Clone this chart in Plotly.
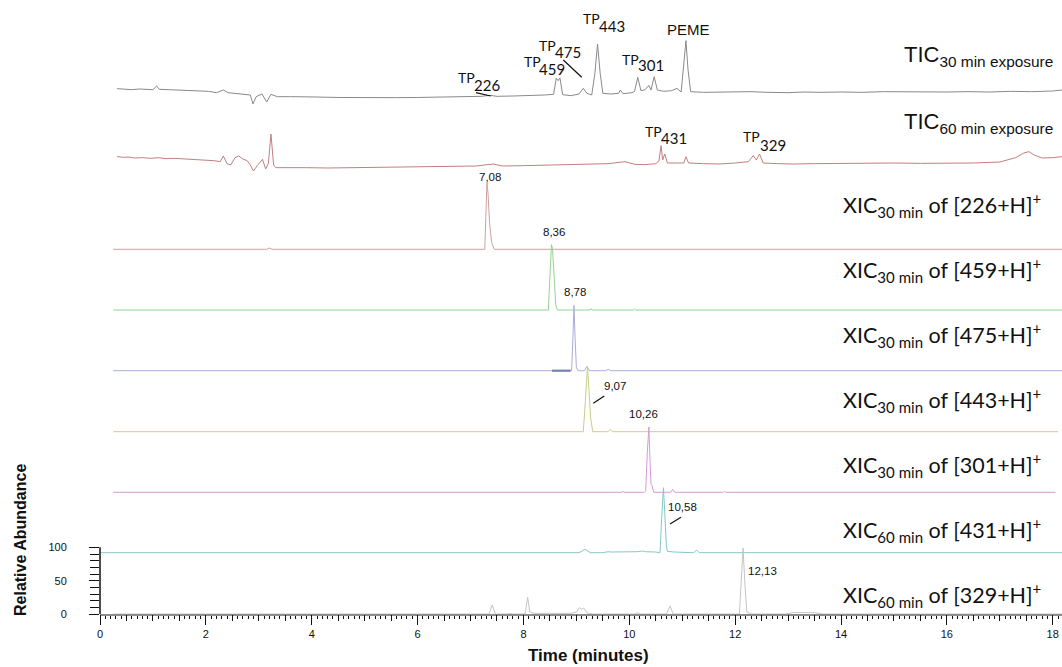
import numpy as np
import plotly.graph_objects as go

# ---------------- data ----------------
tic30_t = [0.32,0.45,0.6,0.75,0.9,1.0,1.07,1.12,1.3,1.5,1.7,1.9,2.05,2.2,2.33,2.42,2.55,2.7,2.84,2.89,2.95,3.06,3.15,3.23,3.35,3.6,3.8,4.1,4.5,4.9,5.2,5.6,6.0,6.4,6.9,7.2,7.37,7.5,7.8,8.1,8.4,8.57,8.62,8.655,8.69,8.74,8.9,9.05,9.13,9.2,9.29,9.35,9.40,9.45,9.5,9.65,9.8,9.83,9.88,10.05,10.1,10.16,10.22,10.3,10.37,10.41,10.47,10.53,10.65,10.8,10.9,10.98,11.03,11.07,11.11,11.16,11.4,11.7,12.0,12.3,12.6,13.0,13.3,13.6,14.0,14.4,14.8,15.2,15.6,16.0,16.4,16.8,17.2,17.6,18.0,18.175]
tic30_v = [17,16,15.5,16.5,16,15.5,21,16,15.5,15,14.5,14,13,11,15,11,10,9,7.5,-6,5,9,-3,8.5,5,5,5,4.5,3.8,3.3,3,3.5,3.8,4.3,5,5.5,7,5.5,6,6.5,7.5,8.5,33,29,33,8,6.5,9,17.5,10,7.5,40,84,40,10,9,10,15,9.5,11,13,34,14,15.5,22,15,35,15,13,14,17.5,12,50,89,45,12.5,11.5,12,11.5,12.5,11.5,11,12,11.5,12,11.5,12.5,12,11.5,12,12.5,12,13,12.5,13.5,15]

tic60_t = [0.32,0.45,0.55,0.65,0.8,0.95,1.1,1.25,1.4,1.6,1.8,2.0,2.15,2.27,2.33,2.4,2.47,2.55,2.62,2.7,2.78,2.84,2.9,2.97,3.07,3.13,3.18,3.23,3.28,3.32,3.6,3.9,4.3,4.7,5.1,5.5,5.9,6.3,6.7,7.1,7.43,7.6,8.0,8.4,8.8,9.3,9.6,9.92,10.1,10.3,10.5,10.56,10.6,10.63,10.67,10.72,10.9,11.03,11.07,11.12,11.4,11.7,12.0,12.25,12.34,12.4,12.46,12.53,12.8,13.1,13.5,14.0,14.5,15.0,15.5,16.0,16.5,17.0,17.3,17.45,17.55,17.65,17.8,18.0,18.175]
tic60_v = [15.5,14.5,15,13.5,14,13,14,12.5,13,12,11.5,10.5,9.5,8,16.5,5,3,14,16.5,12,9.5,3,-6,2,11.5,-3,5,49.5,3,-1,-0.5,-1,-1.5,-1,-0.5,0,0.5,1.5,1,1.5,4.5,1.5,2,3,3.5,4.5,5,8,4,3.5,5,9,32,10.5,19.5,6,5.5,6,15.5,6,5,4.5,6,8,17,10.5,19.5,6,5,4.5,5,5.5,5,6,5.5,5.5,6,7.5,14,21,23,18,13.5,14,15.5]

xic226_t = [0.25,3.15,3.2,3.25,7.27,7.29,7.31,7.33,7.36,7.40,7.45,18.175]
xic226_v = [0,0,2,0,0,50,100,85,40,10,0,0]

xic459_t = [0.25,8.47,8.50,8.53,8.55,8.58,8.61,8.64,9.26,9.28,9.30,10.08,10.10,10.12,18.175]
xic459_v = [0,0,50,98,92,40,8,0,0,2,0,0,1.5,0,0]

xic475_t = [0.25,8.91,8.935,8.955,8.975,9.0,9.03,9.15,9.2,9.25,9.55,9.6,9.65,10.2,10.25,10.3,18.175]
xic475_v = [0,0,50,98,50,5,0,0,6,0,0,2,0,0,1,0,0]
xic475_seg_t = [8.54,8.89]
xic475_seg_v = [0,0]

xic443_t = [0.25,9.13,9.17,9.21,9.24,9.27,9.31,9.60,9.64,9.68,18.1]
xic443_v = [0,0,45,98,60,20,0,0,3.6,0,0]

xic301_t = [0.25,9.86,9.88,9.90,10.28,10.31,10.34,10.37,10.39,10.41,10.43,10.46,10.78,10.82,10.86,11.78,11.80,11.82,18.05]
xic301_v = [0,0,1.5,0,0,2,60,98,50,12,10,0,0,4.5,0,0,1.5,0,0]

xic431_t = [0,7.8,7.82,7.84,8.13,8.15,8.17,8.42,8.44,8.46,9.05,9.12,9.16,9.2,9.26,9.5,9.6,9.65,9.8,9.9,10.0,10.1,10.15,10.25,10.3,10.5,10.58,10.61,10.645,10.67,10.7,10.72,10.8,10.85,11.22,11.27,11.32,18.175]
xic431_v = [0,0,1,0,0,1,0,0,1,0,0,3,5,3.5,0,0,1.5,1,1,1.5,1,2,1.5,2.5,1.5,1,0,50,97.5,60,10,2,2,1,0,4,0,0]

xic329_t = [0.25,7.35,7.41,7.47,7.7,7.75,7.8,8.03,8.08,8.12,8.2,8.35,8.5,8.6,8.9,9.0,9.06,9.1,9.14,9.2,9.3,10.1,10.15,10.2,10.7,10.77,10.83,12.08,12.12,12.15,12.18,12.22,12.3,12.95,13.1,13.3,13.5,13.65,18.175]
xic329_v = [0,0,13.5,0,0,1,0,0,25,3,1,1,1.5,0.5,1,3,9.5,7,9,2,0,0,2,0,0,12,0,0,60,99,50,3,0,0,2,2.2,2,0,0]

xic_mass = ["226", "459", "475", "443", "301", "431", "329"]
xic_exposure = ["30", "30", "30", "30", "30", "60", "60"]
peak_rt_labels = ["7,08", "8,36", "8,78", "9,07", "10,26", "10,58", "12,13"]
tic_exposure = ["30", "60"]
tp_names = ["226", "459", "475", "443", "301", "431", "329"]
x_tick_labels = ["0", "2", "4", "6", "8", "10", "12", "14", "16", "18"]
y_tick_labels = ["0", "50", "100"]

# ---------------- layout helpers ----------------
W, H = 1062, 667
L, T, B, R = 100, 0, 53, 0
PW, PH = W - L - R, H - T - B
PPM = 52.93                    # pixels per minute
XMAX = PW / PPM
PPU = 0.6667                   # pixels per abundance unit
YMAX = PH / PPU

def X(px):
    return (px - L) / PPM

def Y(py):
    return (H - B - py) / PPU

def PX(px):
    return (px - L) / PW

def PY(py):
    return (H - B - py) / PH

xic_offsets = [Y(249.3), Y(310.0), Y(370.7), Y(431.7), Y(492.3), Y(552.7), 0]
tic_offsets = [Y(100), Y(167)]
xic_colors = ["#cfa0a0", "#94d294", "#acacde", "#cccc88", "#d69ad6", "#84c8c8", "#c4c4c4"]
tic_colors = ["#8a8a8a", "#c47e7e"]

fig = go.Figure()

def add_line(t, v, off, color, width=1.0):
    fig.add_trace(go.Scatter(x=t, y=[off + a for a in v], mode="lines",
                             line=dict(color=color, width=width),
                             showlegend=False, hoverinfo="skip"))

add_line(tic30_t, tic30_v, tic_offsets[0], tic_colors[0])
add_line(tic60_t, tic60_v, tic_offsets[1], tic_colors[1])
xic_data = [(xic226_t, xic226_v), (xic459_t, xic459_v), (xic475_t, xic475_v),
            (xic443_t, xic443_v), (xic301_t, xic301_v), (xic431_t, xic431_v),
            (xic329_t, xic329_v)]
for (t, v), off, c in zip(xic_data, xic_offsets, xic_colors):
    add_line(t, v, off, c)
add_line(xic475_seg_t, xic475_seg_v, xic_offsets[2], "#7482ac", 2.2)

# dummy trace for the secondary x axis (0.5-min ticks)
fig.add_trace(go.Scatter(x=[None], y=[None], xaxis="x2", showlegend=False, hoverinfo="skip"))

ann = []
XIC_FONT = "Lato, 'Open Sans', sans-serif"
ARIAL = "'Liberation Sans', Arial, sans-serif"

def note(px, py, text, size, family, xanchor="left", **kw):
    ann.append(dict(x=PX(px), y=PY(py), xref="paper", yref="paper", xanchor=xanchor,
                    yanchor="middle", text=text, showarrow=False,
                    font=dict(family=family, size=size, color="#111"), **kw))

# right-hand XIC labels
xic_label_y = [205, 270, 335, 400, 465, 530, 595]
for m, e, yy in zip(xic_mass, xic_exposure, xic_label_y):
    note(840.7, yy, f"XIC<sub>{e} min</sub> of [{m}+H]<sup>+</sup>", 21.5, XIC_FONT)

# TIC labels
tic_label_y = [56, 123]
for e, yy in zip(tic_exposure, tic_label_y):
    note(902, yy, f"TIC<sub>{e} min exposure</sub>", 22, ARIAL)

# TP labels: "TP" and digits
tp_pos = [((456, 78), (471.7, 85)), ((521.7, 61.7), (536.7, 68.7)), ((537, 45), (553, 51.7)),
          ((580.7, 18.3), (597.3, 26)), ((620, 59), (636, 65)), ((642.7, 131.7), (659, 138.3)),
          ((740.7, 136.7), (758.3, 145))]
for name, (p1, p2) in zip(tp_names, tp_pos):
    note(p1[0], p1[1], "TP", 14, XIC_FONT)
    note(p2[0], p2[1], name, 15, XIC_FONT)
note(688.7, 29, "PEME", 15, ARIAL, xanchor="center")

# retention time labels
rt_pos = [(489.5, 176.7), (553.8, 232.3), (574.5, 292.3), (614.5, 386), (643, 414.3),
          (682.7, 507.3), (762.7, 570.7)]
for lab, (px, py) in zip(peak_rt_labels, rt_pos):
    note(px, py, lab, 11.5, ARIAL, xanchor="center")

# axis titles
note(588.5, 655, "<b>Time (minutes)</b>", 17, ARIAL, xanchor="center")
note(20, 540, "<b>Relative Abundance</b>", 16, ARIAL, xanchor="center", textangle=-90)

shapes = []
leaders = [((476, 92.7), (490.7, 96)), ((563.3, 60), (581.7, 77.3)),
           ((593.3, 403.3), (604.3, 396)), ((670, 524), (681, 517.3))]
for (a, b) in leaders:
    shapes.append(dict(type="line", xref="paper", yref="paper", x0=PX(a[0]), y0=PY(a[1]),
                       x1=PX(b[0]), y1=PY(b[1]), line=dict(color="#111", width=1.2)))
# short y axis line (0..100)
shapes.append(dict(type="line", xref="paper", yref="y", x0=0, x1=0, y0=0, y1=100,
                   line=dict(color="#111", width=1.5)))

fig.update_layout(
    width=W, height=H, margin=dict(l=L, r=R, t=T, b=B, autoexpand=False),
    paper_bgcolor="white", plot_bgcolor="white",
    annotations=ann, shapes=shapes, showlegend=False,
    xaxis=dict(range=[0, XMAX], automargin=False, tickmode="array",
               tickvals=np.arange(0, 18.01, 2).tolist(),
               ticktext=x_tick_labels, ticks="outside", ticklen=9, tickcolor="#111", tickwidth=1.2,
               showline=True, linecolor="#8c8c8c", linewidth=2, showgrid=False, zeroline=False,
               tickfont=dict(family=ARIAL, size=11, color="#111"),
               minor=dict(tickmode="array", tickvals=np.round(np.arange(0, 18.15, 0.1), 2).tolist(),
                          ticks="outside", ticklen=3, tickcolor="#111", tickwidth=1, showgrid=False)),
    xaxis2=dict(range=[0, XMAX], automargin=False, overlaying="x", anchor="y", side="bottom",
                tickmode="array", tickvals=np.arange(0, 18.01, 0.5).tolist(), ticks="outside",
                ticklen=6, tickcolor="#111", tickwidth=1, showticklabels=False, showline=False,
                showgrid=False, zeroline=False),
    yaxis=dict(range=[0, YMAX], automargin=False, tickmode="array", tickvals=[0, 50, 100],
               ticktext=y_tick_labels, ticks="outside", ticklen=10, tickcolor="#111",
               tickwidth=1.2, showline=False, showgrid=False, zeroline=False,
               ticklabelstandoff=20, tickfont=dict(family=ARIAL, size=11, color="#111"),
               minor=dict(tickmode="array", tickvals=list(range(10, 100, 10)), ticks="outside",
                          ticklen=9, tickcolor="#111", tickwidth=1, showgrid=False)),
)

fig.write_html("out.html", config={"displayModeBar": False},
               post_script="document.body.style.margin='0px';")
